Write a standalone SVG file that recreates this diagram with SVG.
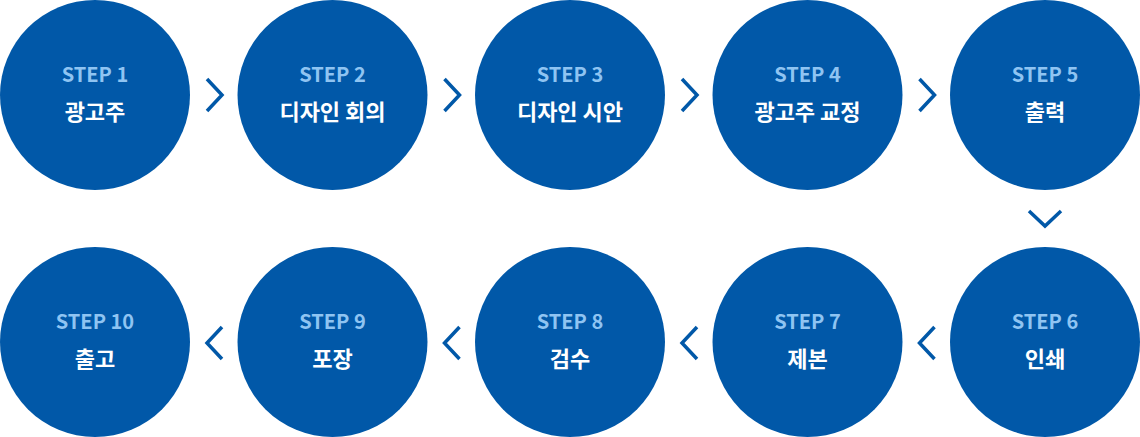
<svg xmlns="http://www.w3.org/2000/svg" width="1140" height="437" viewBox="0 0 1140 437">
<style>
.c{fill:#0158a8}
.s{font-family:"Noto Sans CJK KR","Noto Sans",sans-serif;font-weight:700;font-size:20px;fill:#8fc4f2;text-anchor:middle}
.t{font-family:"Noto Sans CJK KR","Noto Sans",sans-serif;font-weight:700;font-size:22px;fill:#ffffff;text-anchor:middle}
.a{fill:none;stroke:#0158a8;stroke-width:3.5}
</style>
<rect width="1140" height="437" fill="#ffffff"/>
<g id="step1"><circle class="c" cx="95" cy="95" r="95"/><text class="s" x="95" y="82">STEP 1</text><text class="t" x="95" y="120">광고주</text></g>
<g id="step2"><circle class="c" cx="332.5" cy="95" r="95"/><text class="s" x="332.5" y="82">STEP 2</text><text class="t" x="332.5" y="120">디자인 회의</text></g>
<g id="step3"><circle class="c" cx="570" cy="95" r="95"/><text class="s" x="570" y="82">STEP 3</text><text class="t" x="570" y="120">디자인 시안</text></g>
<g id="step4"><circle class="c" cx="807.5" cy="95" r="95"/><text class="s" x="807.5" y="82">STEP 4</text><text class="t" x="807.5" y="120">광고주 교정</text></g>
<g id="step5"><circle class="c" cx="1045" cy="95" r="95"/><text class="s" x="1045" y="82">STEP 5</text><text class="t" x="1045" y="120">출력</text></g>
<g id="step6"><circle class="c" cx="1045" cy="342" r="95"/><text class="s" x="1045" y="329">STEP 6</text><text class="t" x="1045" y="367">인쇄</text></g>
<g id="step7"><circle class="c" cx="807.5" cy="342" r="95"/><text class="s" x="807.5" y="329">STEP 7</text><text class="t" x="807.5" y="367">제본</text></g>
<g id="step8"><circle class="c" cx="570" cy="342" r="95"/><text class="s" x="570" y="329">STEP 8</text><text class="t" x="570" y="367">검수</text></g>
<g id="step9"><circle class="c" cx="332.5" cy="342" r="95"/><text class="s" x="332.5" y="329">STEP 9</text><text class="t" x="332.5" y="367">포장</text></g>
<g id="step10"><circle class="c" cx="95" cy="342" r="95"/><text class="s" x="95" y="329">STEP 10</text><text class="t" x="95" y="367">출고</text></g>
<g id="connectors">
<polyline class="a" points="207,79 222,95 207,111"/>
<polyline class="a" points="444.5,79 459.5,95 444.5,111"/>
<polyline class="a" points="682,79 697,95 682,111"/>
<polyline class="a" points="919.5,79 934.5,95 919.5,111"/>
<polyline class="a" points="1029,211 1045,226 1061,211"/>
<polyline class="a" points="934.5,327 919.5,343 934.5,359"/>
<polyline class="a" points="697,327 682,343 697,359"/>
<polyline class="a" points="459.5,327 444.5,343 459.5,359"/>
<polyline class="a" points="222,327 207,343 222,359"/>
</g>
</svg>
